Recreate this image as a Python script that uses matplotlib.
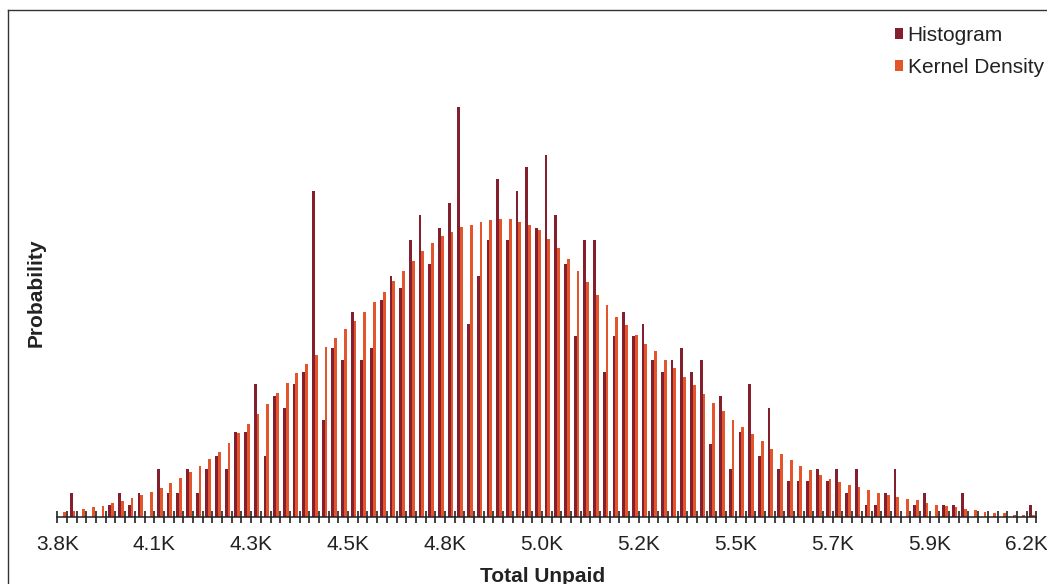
import numpy as np
import matplotlib
matplotlib.use("Agg")
import matplotlib.pyplot as plt
from matplotlib.patches import Patch
from matplotlib.lines import Line2D
from matplotlib.ticker import FixedLocator, NullFormatter

plt.rcParams['font.family'] = ['Liberation Sans', 'DejaVu Sans']

# ---- data ----
# Histogram: simulated counts per bin (101 equal-width bins, 3.8K .. 6.2K)
hist_counts = [0, 2, 0, 0, 0, 1, 2, 1, 2, 0,
               4, 2, 2, 4, 2, 4, 5, 4, 7, 7,
               11, 5, 10, 9, 11, 12, 27, 8, 14, 13,
               17, 13, 14, 18, 20, 19, 23, 25, 21, 24,
               26, 34, 16, 20, 23, 28, 23, 27, 29, 24,
               30, 25, 21, 15, 23, 23, 12, 15, 17, 15,
               16, 13, 12, 13, 14, 12, 13, 6, 10, 4,
               7, 11, 5, 9, 4, 3, 3, 3, 4, 3,
               4, 2, 4, 1, 1, 2, 4, 0, 1, 2,
               0, 1, 1, 2, 0, 0, 0, 0, 0, 0,
               1]
# Kernel density, expressed as expected counts per bin
kde_counts = [0.39, 0.50, 0.66, 0.79, 0.91, 1.16, 1.33, 1.58, 1.83, 2.07,
              2.41, 2.82, 3.24, 3.73, 4.23, 4.81, 5.39, 6.14, 6.97, 7.72,
              8.55, 9.38, 10.29, 11.12, 11.95, 12.67, 13.39, 14.11, 14.83, 15.54,
              16.27, 16.99, 17.82, 18.65, 19.59, 20.41, 21.24, 22.07, 22.68, 23.29,
              23.63, 24.01, 24.23, 24.46, 24.59, 24.71, 24.71, 24.46, 24.23, 23.76,
              23.05, 22.32, 21.39, 20.41, 19.48, 18.40, 17.57, 16.60, 15.91, 15.05,
              14.33, 13.72, 13.03, 12.31, 11.59, 10.90, 10.18, 9.46, 8.74, 8.02,
              7.41, 6.83, 6.25, 5.64, 5.17, 4.71, 4.21, 3.88, 3.49, 3.13,
              2.88, 2.66, 2.43, 2.18, 1.93, 1.83, 1.60, 1.47, 1.35, 1.10,
              1.00, 0.89, 0.77, 0.64, 0.52, 0.41, 0.31, 0.27, 0.17, 0.17,
              0.17]
tick_labels = ["3.8K", "4.1K", "4.3K", "4.5K", "4.8K", "5.0K",
               "5.2K", "5.5K", "5.7K", "5.9K", "6.2K"]
series_names = ["Histogram", "Kernel Density"]

hist_counts = np.array(hist_counts, dtype=float)
kde_counts = np.array(kde_counts, dtype=float)
N = hist_counts.sum()
hist_prob = hist_counts / N
kde_prob = kde_counts / N
bins = np.arange(len(hist_counts))

C_HIST = '#84202E'
C_KDE = '#E4552C'
C_TEXT = '#222222'

W, H = 1047, 584
fig = plt.figure(figsize=(W / 100, H / 100), dpi=100)
ax = fig.add_axes([57.3 / W, (H - 516.7) / H, 979 / W, 441.7 / H])

bw = 0.29
ax.bar(bins - 0.075, hist_prob, width=bw, color=C_HIST, linewidth=0)
ax.bar(bins + 0.215, kde_prob, width=bw, color=C_KDE, linewidth=0)

ax.set_xlim(-0.5, len(bins) - 0.5)
ax.set_ylim(0, 36.66 / N)

for s in ['left', 'right', 'top']:
    ax.spines[s].set_visible(False)
ax.spines['bottom'].set_color(C_TEXT)
ax.spines['bottom'].set_linewidth(1.1)

major = np.arange(0, len(bins) + 1, 10) - 0.5
minor = np.arange(0, len(bins) + 1) - 0.5
ax.xaxis.set_major_locator(FixedLocator(major))
ax.xaxis.set_minor_locator(FixedLocator(minor))
ax.set_xticklabels(tick_labels)
ax.xaxis.set_minor_formatter(NullFormatter())
ax.tick_params(axis='x', which='both', direction='inout', length=8,
               width=1.2, color=C_TEXT)
ax.tick_params(axis='x', which='major', labelsize=15, pad=9.5,
               labelcolor=C_TEXT)
ax.set_yticks([])

ax.set_xlabel("Total Unpaid", fontsize=15, fontweight='bold', color=C_TEXT)
ax.xaxis.set_label_coords(0.496, -0.113)
ax.set_ylabel("Probability", fontsize=15, fontweight='bold', color=C_TEXT)
ax.yaxis.set_label_coords(-0.0115, 0.508)

handles = [Patch(facecolor=C_HIST, edgecolor='none'),
           Patch(facecolor=C_KDE, edgecolor='none')]
leg = fig.legend(handles, series_names, loc='upper left',
                 bbox_to_anchor=(894.7 / W, 1 - 26 / H),
                 bbox_transform=fig.transFigure, frameon=False,
                 fontsize=15, handlelength=0.38, handleheight=0.38,
                 handletextpad=0.24, labelspacing=0.62, borderpad=0,
                 borderaxespad=0)
for t in leg.get_texts():
    t.set_color(C_TEXT)

# outer frame (left and top edges visible in the crop)
fig.add_artist(Line2D([7.5 / W, 7.5 / W], [0, 1 - 10 / H],
                      transform=fig.transFigure, color='#333333', lw=1.0))
fig.add_artist(Line2D([7.5 / W, 1], [1 - 10 / H, 1 - 10 / H],
                      transform=fig.transFigure, color='#333333', lw=1.0))

fig.savefig("out.png", dpi=100)
